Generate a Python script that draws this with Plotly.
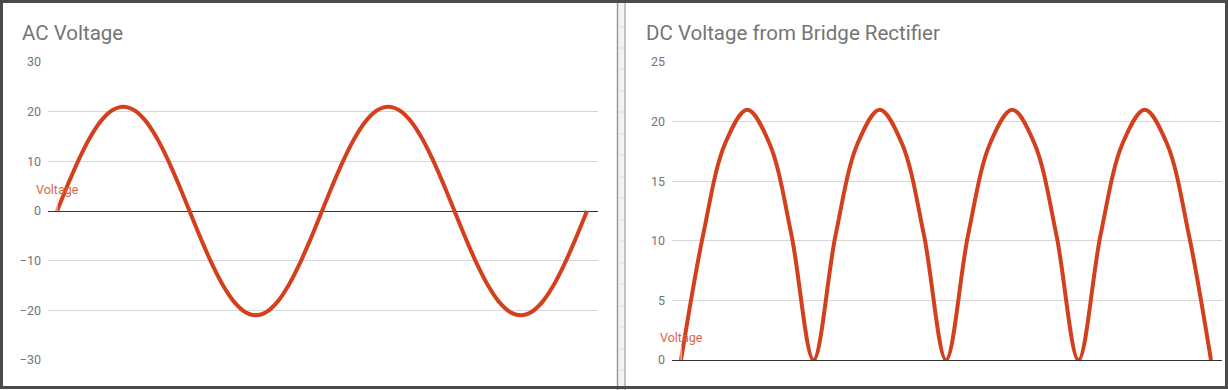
import plotly.graph_objects as go

# ---- data ----
ac_angle_deg = [0, 15, 30, 45, 60, 75, 90, 105, 120, 135, 150, 165, 180,
                195, 210, 225, 240, 255, 270, 285, 300, 315, 330, 345, 360,
                375, 390, 405, 420, 435, 450, 465, 480, 495, 510, 525, 540,
                555, 570, 585, 600, 615, 630, 645, 660, 675, 690, 705, 720]
ac_voltage = [0, 5.44, 10.5, 14.85, 18.19, 20.28, 21, 20.28, 18.19, 14.85, 10.5, 5.44, 0,
              -5.44, -10.5, -14.85, -18.19, -20.28, -21, -20.28, -18.19, -14.85, -10.5, -5.44, 0,
              5.44, 10.5, 14.85, 18.19, 20.28, 21, 20.28, 18.19, 14.85, 10.5, 5.44, 0,
              -5.44, -10.5, -14.85, -18.19, -20.28, -21, -20.28, -18.19, -14.85, -10.5, -5.44, 0]
dc_angle_deg = [0, 30, 60, 90, 120, 150, 180, 210, 240, 270, 300, 330, 360,
                390, 420, 450, 480, 510, 540, 570, 600, 630, 660, 690, 720]
dc_voltage = [0, 10.5, 18.19, 21, 18.19, 10.5, 0, 10.5, 18.19, 21, 18.19, 10.5, 0,
              10.5, 18.19, 21, 18.19, 10.5, 0, 10.5, 18.19, 21, 18.19, 10.5, 0]
ac_ticks = [-30, -20, -10, 0, 10, 20, 30]
dc_ticks = [0, 5, 10, 15, 20, 25]
series_name = "Voltage"
titles = ["AC Voltage", "DC Voltage from Bridge Rectifier"]

W, H = 1228, 390
def px(x): return x / W
def py(y): return 1 - y / H

LINE = "#d3401e"
TXT = "#757575"
FONT = "Roboto"

fig = go.Figure()
fig.add_trace(go.Scatter(x=ac_angle_deg, y=ac_voltage, mode="lines", name=series_name,
                         line=dict(color=LINE, width=4, shape="spline", smoothing=1.0),
                         xaxis="x", yaxis="y", showlegend=False, hoverinfo="x+y"))
fig.add_trace(go.Scatter(x=dc_angle_deg, y=dc_voltage, mode="lines", name=series_name,
                         line=dict(color=LINE, width=4, shape="spline", smoothing=1.0),
                         xaxis="x2", yaxis="y2", showlegend=False, hoverinfo="x+y"))

xr = [ac_angle_deg[0] - 12.3, ac_angle_deg[-1] + 15]
ydom = [py(360), py(62)]

common_y = dict(showgrid=True, gridcolor="#d6d6d6", gridwidth=1,
                zeroline=True, zerolinecolor="#333333", zerolinewidth=1,
                showline=False, ticks="", ticklabelstandoff=6, automargin=False,
                tickfont=dict(family=FONT, size=12.5, color=TXT))

fig.update_layout(
    width=W, height=H, margin=dict(l=0, r=0, t=0, b=0, autoexpand=False),
    paper_bgcolor="white", plot_bgcolor="white",
    font=dict(family=FONT, color=TXT),
    xaxis=dict(domain=[px(48), px(598)], range=xr, visible=False, showgrid=False,
               zeroline=False, automargin=False),
    yaxis=dict(domain=ydom, range=[-30, 30], tickvals=ac_ticks, anchor="x", **common_y),
    xaxis2=dict(domain=[px(672), px(1222)], range=xr, visible=False, showgrid=False,
                zeroline=False, automargin=False),
    yaxis2=dict(domain=ydom, range=[0, 25], tickvals=dc_ticks, anchor="x2", **common_y),
)

# titles
fig.add_annotation(text=titles[0], xref="paper", yref="paper", x=px(20), y=py(33),
                   xanchor="left", yanchor="middle", showarrow=False,
                   font=dict(family=FONT, size=20.5, color=TXT))
fig.add_annotation(text=titles[1], xref="paper", yref="paper", x=px(644), y=py(33),
                   xanchor="left", yanchor="middle", showarrow=False,
                   font=dict(family=FONT, size=20.5, color=TXT))

# series labels at first point
fig.add_annotation(text=series_name, xref="x", yref="y", x=ac_angle_deg[0], y=ac_voltage[0],
                   ax=0, ay=-22, showarrow=True, arrowhead=0, arrowwidth=1, arrowcolor="#e6e6e6",
                   font=dict(family=FONT, size=12.5, color="#e0634a"), standoff=0)
fig.add_annotation(text=series_name, xref="x2", yref="y2", x=dc_angle_deg[0], y=dc_voltage[0],
                   ax=0, ay=-23, showarrow=True, arrowhead=0, arrowwidth=1, arrowcolor="#e6e6e6",
                   font=dict(family=FONT, size=12.5, color="#e0634a"), standoff=0)

shapes = []
# divider strip
shapes.append(dict(type="rect", xref="paper", yref="paper", x0=px(617), x1=px(625), y0=0, y1=1,
                   fillcolor="#f3f3f3", line=dict(width=0), layer="below"))
for xx, col in [(617.5, "#9a9a9a"), (625, "#b0b0b0")]:
    shapes.append(dict(type="line", xref="paper", yref="paper", x0=px(xx), x1=px(xx), y0=0, y1=1,
                       line=dict(color=col, width=1.5)))
for yy in [27, 48, 69, 91, 112, 134, 155, 177, 198, 220, 241, 263, 284, 306, 327, 349, 370]:
    shapes.append(dict(type="line", xref="paper", yref="paper", x0=px(618), x1=px(624),
                       y0=py(yy), y1=py(yy), line=dict(color="#dedede", width=1)))
# outer frame
shapes.append(dict(type="rect", xref="paper", yref="paper", x0=px(1.5), x1=px(1226.5),
                   y0=py(387.5), y1=py(1.5), line=dict(color="#4a4a4a", width=3),
                   fillcolor="rgba(0,0,0,0)"))
fig.update_layout(shapes=shapes)

post = ("document.documentElement.style.margin='0';document.body.style.margin='0';"
        "document.body.style.padding='0';document.body.style.overflow='hidden';")
fig.write_html("out.html", post_script=post, config={"displayModeBar": False})
